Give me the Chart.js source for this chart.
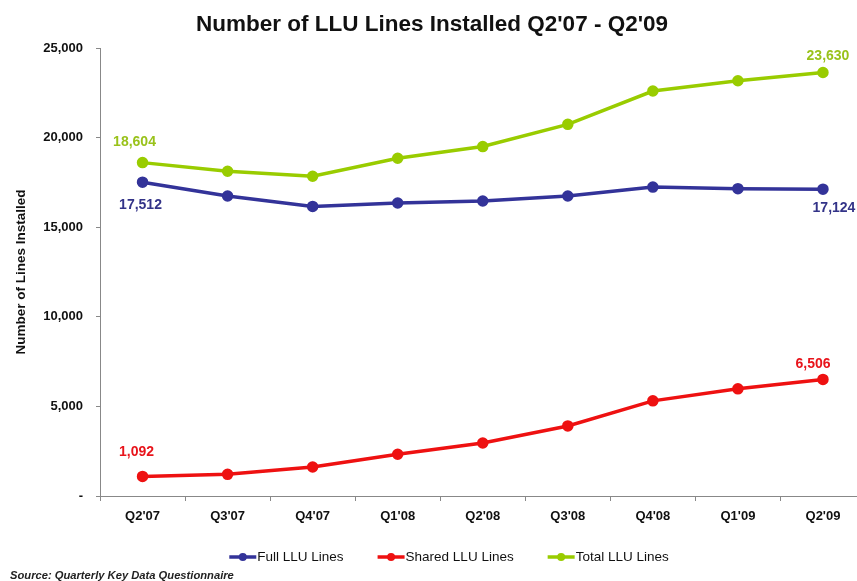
<!DOCTYPE html>
<html>
<head>
<meta charset="utf-8">
<script src="https://cdn.jsdelivr.net/npm/chart.js@4"></script>
<style>
html,body{margin:0;padding:0;background:#fff;overflow:hidden;}
#wrap{position:relative;width:857px;height:581px;overflow:hidden;}
canvas{display:block;}
</style>
</head>
<body>
<div id="wrap"><canvas id="c" width="873" height="581"></canvas></div>
<script>
const categories = ["Q2'07","Q3'07","Q4'07","Q1'08","Q2'08","Q3'08","Q4'08","Q1'09","Q2'09"];
const fullLines   = [17512, 16740, 16160, 16350, 16460, 16740, 17240, 17150, 17124];
const sharedLines = [1092, 1210, 1620, 2330, 2960, 3910, 5310, 5980, 6506];
const totalLines  = [18604, 18120, 17840, 18850, 19500, 20740, 22600, 23170, 23630];
const yTicks = [0, 5000, 10000, 15000, 20000, 25000];
const chartTitle = "Number of LLU Lines Installed Q2'07 - Q2'09";
const sourceText = 'Source: Quarterly Key Data Questionnaire';

const BLUE = '#333399', RED = '#EE1111', GREEN = '#99CC00';
const FONT = '"Liberation Sans", Arial, sans-serif';

const endLabels = {
  id:'endLabels',
  afterDatasetsDraw(chart){
    const ctx = chart.ctx;
    const cfg = [
      {ds:1, color:'#E8141B', first:{dx:-6,dy:-24}, last:{dx:-10,dy:-15}},
      {ds:0, color:'#333388', first:{dx:-2,dy:23}, last:{dx:11,dy:19}},
      {ds:2, color:'#99C21A', first:{dx:-8,dy:-20}, last:{dx:5,dy:-16}}
    ];
    ctx.save();
    ctx.font = 'bold 14px ' + FONT;
    ctx.textAlign = 'center'; ctx.textBaseline = 'middle';
    cfg.forEach(c => {
      const meta = chart.getDatasetMeta(c.ds);
      const data = chart.data.datasets[c.ds].data;
      [[0,c.first],[data.length-1,c.last]].forEach(([i,o]) => {
        const p = meta.data[i];
        ctx.fillStyle = c.color;
        ctx.fillText(data[i].toLocaleString('en-US'), p.x + o.dx, p.y + o.dy);
      });
    });
    ctx.restore();
  }
};

const decorations = {
  id:'decorations',
  afterDraw(chart){
    const ctx = chart.ctx;
    ctx.save();
    // title
    ctx.font = 'bold 22.5px ' + FONT;
    ctx.fillStyle = '#111';
    ctx.textAlign = 'center'; ctx.textBaseline = 'middle';
    ctx.fillText(chartTitle, 432, 25);
    // legend
    ctx.font = '13.5px ' + FONT;
    ctx.textBaseline = 'middle'; ctx.textAlign = 'left';
    const iconW = 27, gapText = 1, gapItem = 34, cy = 557;
    const items = chart.data.datasets.map(d => ({text:d.label, color:d.borderColor, w: iconW + gapText + ctx.measureText(d.label).width}));
    const total = items.reduce((s,it)=>s+it.w,0) + gapItem*(items.length-1);
    let x = 449 - total/2;
    items.forEach(it => {
      ctx.strokeStyle = it.color; ctx.lineWidth = 3.5;
      ctx.beginPath(); ctx.moveTo(x, cy); ctx.lineTo(x+iconW, cy); ctx.stroke();
      ctx.fillStyle = it.color;
      ctx.beginPath(); ctx.arc(x+iconW/2, cy, 4, 0, Math.PI*2); ctx.fill();
      ctx.fillStyle = '#111';
      ctx.fillText(it.text, x + iconW + gapText, cy);
      x += it.w + gapItem;
    });
    // source
    ctx.font = 'italic bold 11.2px ' + FONT;
    ctx.fillStyle = '#222';
    ctx.fillText(sourceText, 10, 576);
    ctx.restore();
  }
};

const mk = (label, data, color) => ({
  label, data, borderColor: color, backgroundColor: color,
  borderWidth: 3.5, pointRadius: 4, pointHoverRadius: 4,
  pointBackgroundColor: color, pointBorderColor: color, tension: 0,
  pointStyle: 'circle'
});

new Chart(document.getElementById('c'), {
  type: 'line',
  data: {
    labels: categories,
    datasets: [
      mk('Full LLU Lines', fullLines, BLUE),
      mk('Shared LLU Lines', sharedLines, RED),
      mk('Total LLU Lines', totalLines, GREEN)
    ]
  },
  options: {
    responsive: false,
    animation: false,
    layout: { padding: { left: 10, right: 0, top: 48, bottom: 57 } },
    plugins: {
      tooltip: { enabled: false },
      legend: { display: false },
      title: { display: false }
    },
    scales: {
      x: {
        offset: true,
        afterFit(axis){ axis.height = 28; },
        grid: { display: true, offset: true, drawOnChartArea: false, drawTicks: true, tickLength: 5, color: '#888' },
        border: { display: true, color: '#888', width: 1 },
        ticks: { color: '#111', font: { family: FONT, size: 13, weight: 'bold' }, padding: 8, maxRotation: 0 }
      },
      y: {
        min: 0, max: 25000,
        afterFit(axis){ axis.width = 90; },
        afterBuildTicks(axis){ axis.ticks = yTicks.map(v => ({ value: v })); },
        grid: { display: true, drawOnChartArea: false, drawTicks: true, tickLength: 4, color: '#888' },
        border: { display: true, color: '#888', width: 1 },
        ticks: {
          color: '#111', padding: 13,
          font: { family: FONT, size: 13, weight: 'bold' },
          callback: v => v === 0 ? '-' : v.toLocaleString('en-US')
        },
        title: {
          display: true, text: 'Number of Lines Installed', color: '#111',
          font: { family: FONT, size: 13.5, weight: 'bold' },
          padding: { top: 3, bottom: 0 }
        }
      }
    }
  },
  plugins: [endLabels, decorations]
});
</script>
</body>
</html>
